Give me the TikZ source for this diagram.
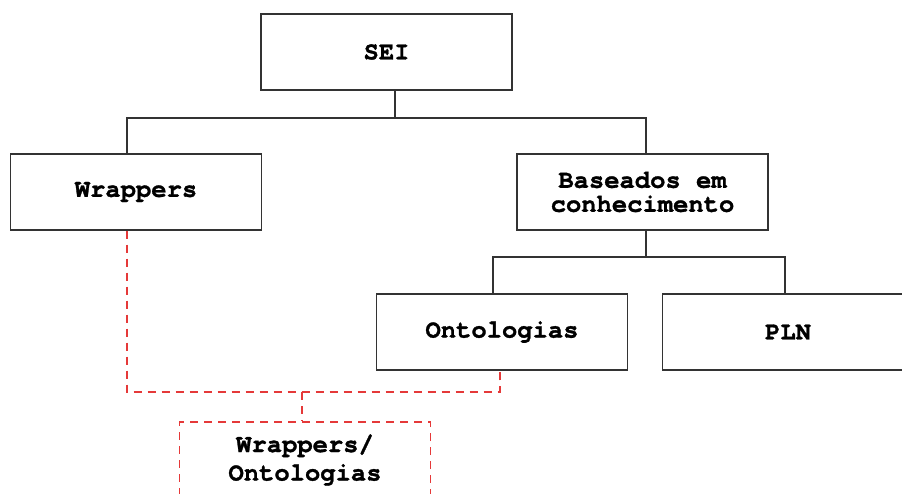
\documentclass[tikz,border=0pt]{standalone}
\usepackage{fontspec}
\setmonofont{texgyrecursor}[Extension=.otf,UprightFont=*-regular,BoldFont=*-bold,BoldFeatures={FakeBold=1.2}]
\begin{document}
\begin{tikzpicture}[x=1pt,y=-1pt,
  box/.style={draw=black!80,line width=1.2pt,rectangle,minimum width=251pt,minimum height=76pt,inner sep=0pt,align=center,
    font=\ttfamily\bfseries\fontsize{25.5}{24}\selectfont},
  conn/.style={draw=black!80,line width=1.2pt},
  dconn/.style={draw=red!75!white!90!black,line width=1.2pt,dash pattern=on 8pt off 6pt},
  dbox/.style={box,dconn,font=\ttfamily\bfseries\fontsize{25.5}{28.5}\selectfont}]
\useasboundingbox (0,0) rectangle (902,493);
\node[box] (sei) at (386.5,52) {SEI};
\node[box] (wr) at (136,192) {Wrappers};
\node[box] (bas) at (642.5,192) {Baseados em\\conhecimento};
\node[box] (ont) at (502,332) {Ontologias};
\node[box] (pln) at (788,332) {PLN};
\node[dbox] (wo) at (305,460) {Wrappers/\\Ontologias};
\coordinate (b1L) at (127,118);
\coordinate (b1) at (395,118);
\coordinate (b1R) at (646,118);
\coordinate (b2L) at (493,257);
\coordinate (b2) at (646,257);
\coordinate (b2R) at (785,257);
\coordinate (d1) at (127,392);
\coordinate (dm) at (302,392);
\coordinate (d2) at (500,392);
\draw[conn] (sei.south -| b1) -- (b1);
\draw[conn] (wr.north -| b1L) |- (b1R) -- (bas.north -| b1R);
\draw[conn] (bas.south -| b2) -- (b2);
\draw[conn] (ont.north -| b2L) |- (b2R) -- (pln.north -| b2R);
\draw[dconn] (wr.south -| d1) -- (d1) -- (d2) -- (ont.south -| d2);
\draw[dconn] (dm) -- (wo.north -| dm);
\end{tikzpicture}
\end{document}
